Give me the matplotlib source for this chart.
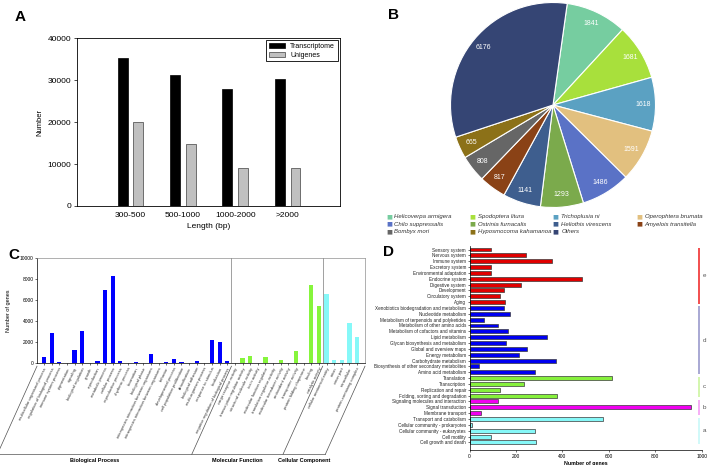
import matplotlib
matplotlib.use('Agg')
import matplotlib.pyplot as plt
import numpy as np

plt.rcParams['font.family'] = ['Liberation Sans', 'DejaVu Sans']

# ---- panel A data
length_bins = ['300-500', '500-1000', '1000-2000', '>2000']
transcriptome = [35400, 31300, 27800, 30300]
unigenes = [20000, 14900, 9000, 9150]

# ---- panel B data
species = ['Helicoverpa armigera', 'Spodoptera litura', 'Trichoplusia ni',
           'Operophtera brumata', 'Chilo suppressalis', 'Ostrinia furnacalis',
           'Heliothis virescens', 'Amyelois transitella', 'Bombyx mori',
           'Hyposmocoma kahamanoa', 'Others']
species_counts = [1841, 1681, 1618, 1591, 1486, 1293, 1141, 817, 808, 665, 6176]
species_colors = ['#76CDA0', '#A8E03C', '#5BA1C2', '#E2C07F', '#5A72C6',
                  '#7BAA4C', '#3E5E8E', '#8A4216', '#666666', '#8C7118', '#354574']

# ---- panel C data
bp_terms = ['multicellular organismal process', 'regulation of biological process',
            'immune system process', 'pigmentation', 'signaling',
            'biological regulation', 'growth', 'reproduction', 'metabolic process',
            'cellular process', 'reproductive process', 'rhythmic process',
            'locomotion', 'biological phase',
            'interspecies interaction between organisms',
            'intraspecies interaction between organisms', 'behavior',
            'developmental process', 'cell population proliferation',
            'detoxification', 'biological adhesion', 'multi-organism process',
            'response to stimulus', 'localization',
            'negative regulation of biological process']
bp_counts = [550, 2850, 120, 0, 1250, 3050, 0, 200, 7000, 8250, 200, 0, 130, 0,
             900, 0, 120, 350, 90, 0, 200, 0, 2200, 2000, 200]
mf_terms = ['cargo receptor activity', 'transcription regulator activity',
            'structural molecule activity', 'toxin activity',
            'molecular function regulator', 'translation regulator activity',
            'molecular transducer activity', 'antioxidant activity',
            'transporter activity', 'protein folding chaperone', 'binding',
            'catalytic activity']
mf_counts = [0, 500, 650, 30, 550, 20, 250, 20, 1100, 0, 7400, 5400]
cc_terms = ['cellular anatomical entity', 'virion', 'virion part',
            'intracellular', 'protein-containing complex']
cc_counts = [6600, 300, 300, 3800, 2500]

# ---- panel D data
kegg_terms = ['Sensory system', 'Nervous system', 'Immune system', 'Excretory system',
              'Environmental adaptation', 'Endocrine system', 'Digestive system',
              'Development', 'Circulatory system', 'Aging',
              'Xenobiotics biodegradation and metabolism', 'Nucleotide metabolism',
              'Metabolism of terpenoids and polyketides',
              'Metabolism of other amino acids', 'Metabolism of cofactors and vitamins',
              'Lipid metabolism', 'Glycan biosynthesis and metabolism',
              'Global and overview maps', 'Energy metabolism',
              'Carbohydrate metabolism', 'Biosynthesis of other secondary metabolites',
              'Amino acid metabolism', 'Translation', 'Transcription',
              'Replication and repair', 'Folding, sorting and degradation',
              'Signaling molecules and interaction', 'Signal transduction',
              'Membrane transport', 'Transport and catabolism',
              'Cellular community - prokaryotes', 'Cellular community - eukaryotes',
              'Cell motility', 'Cell growth and death']
kegg_counts = [91, 243, 355, 94, 91, 484, 222, 150, 133, 155,
               150, 175, 63, 123, 167, 333, 158, 249, 214, 373, 41, 281,
               612, 236, 130, 376,
               122, 955, 48,
               575, 12, 284, 94, 288]
kegg_class = ['e'] * 10 + ['d'] * 12 + ['c'] * 4 + ['b'] * 3 + ['a'] * 5
class_bar_color = {'e': '#E00000', 'd': '#0000F0', 'c': '#86F03C',
                   'b': '#F000F0', 'a': '#86F8F8'}
class_line_color = {'e': '#F03030', 'd': '#9999CC', 'c': '#CCF5A0',
                    'b': '#F5A0F5', 'a': '#C8F8F8'}

W, H = 708, 465
fig = plt.figure(figsize=(W / 100, H / 100), dpi=100)


def box(l, t, r, b):
    return [l / W, 1 - b / H, (r - l) / W, (b - t) / H]


# ================= A
ax = fig.add_axes(box(76.7, 38.3, 340, 206))
x = np.arange(1, len(length_bins) + 1)
ax.bar(x - 0.15, transcriptome, 0.19, color='black', edgecolor='black',
       linewidth=0.5, label='Transcriptome')
ax.bar(x + 0.15, unigenes, 0.19, color='#C0C0C0', edgecolor='#404040',
       linewidth=0.5, label='Unigenes')
ax.set_xlim(-0.03, 5.0)
ax.set_ylim(0, 40000)
ax.set_yticks(np.arange(0, 40001, 10000))
ax.set_xticks(x)
ax.set_xticklabels(length_bins)
ax.tick_params(axis='x', length=0, labelsize=6, pad=4)
ax.tick_params(axis='y', length=2.5, width=0.5, labelsize=6, pad=1.5)
for s in ax.spines.values():
    s.set_linewidth(0.6)
ax.set_ylabel('Number', fontsize=5.5, labelpad=3)
ax.set_xlabel('Length (bp)', fontsize=6, labelpad=3)
leg = ax.legend(loc='upper right', fontsize=5, fancybox=False, edgecolor='black',
                handlelength=2.3, handleheight=0.7, borderaxespad=0.3,
                labelspacing=0.2, framealpha=1)
leg.get_frame().set_linewidth(0.6)
fig.text(15 / W, 1 - 17 / H, 'A', fontsize=11, fontweight='bold', va='center')

# ================= B
axb = fig.add_axes(box(450.5, 2.5, 655.5, 207.5))
axb.pie(species_counts, colors=species_colors, startangle=82, counterclock=False,
        wedgeprops=dict(edgecolor='white', linewidth=0.8),
        autopct=lambda p: '%d' % round(p * sum(species_counts) / 100),
        pctdistance=0.88, textprops=dict(color='white', fontsize=5))
axb.set_xlim(-1.0, 1.0)
axb.set_ylim(-1.0, 1.0)
axb.set_aspect('equal')
fig.text(388 / W, 1 - 15 / H, 'B', fontsize=11, fontweight='bold', va='center')
for i, (name, col) in enumerate(zip(species, species_colors)):
    r, c = divmod(i, 4)
    xx = 389 + c * 83.4
    yy = 216.7 + r * 7.5
    fig.text(xx / W, 1 - yy / H, '\u25A0', color=col, fontsize=4.5,
             ha='center', va='center', family=['DejaVu Sans'])
    fig.text((xx + 5.5) / W, 1 - yy / H, name, fontsize=4.3, style='italic',
             ha='left', va='center', color='#333333')

# ================= C
axc = fig.add_axes(box(37, 258, 365, 363))
n_bp, n_mf, n_cc = len(bp_terms), len(mf_terms), len(cc_terms)
xb = np.arange(n_bp)
xm = np.arange(n_bp, n_bp + n_mf)
xc = np.arange(n_bp + n_mf, n_bp + n_mf + n_cc)
axc.bar(xb, bp_counts, 0.55, color='#0000FF')
axc.bar(xm, mf_counts, 0.55, color='#86F53C')
axc.bar(xc, cc_counts, 0.55, color='#86F8F8')
axc.set_xlim(-0.92, n_bp + n_mf + n_cc + 0.04)
axc.set_ylim(0, 10000)
axc.set_yticks(np.arange(0, 10001, 2000))
axc.set_xticks(np.concatenate([xb, xm, xc]))
axc.set_xticklabels(bp_terms + mf_terms + cc_terms, rotation=64, ha='right',
                    va='top', rotation_mode='anchor', fontsize=3, color='#333333')
axc.tick_params(axis='x', length=1.2, width=0.4, pad=1.5)
axc.tick_params(axis='y', length=1.5, width=0.4, labelsize=3.5, pad=1)
for k, s in axc.spines.items():
    s.set_linewidth(0.5)
    if k in ('top', 'right'):
        s.set_color('#909090')
axc.set_ylabel('Number of genes', fontsize=4, labelpad=6)
bounds = [-0.92, n_bp - 0.45, n_bp + n_mf - 0.5, n_bp + n_mf + n_cc + 0.04]
trans = axc.get_xaxis_transform()
for b in bounds[1:3]:
    axc.plot([b, b], [0, 1], color='#909090', lw=0.6, transform=trans)
slant = 5.2
ybot = -0.87
for b in bounds:
    axc.plot([b, b - slant], [-0.03, ybot], color='#505050', lw=0.5,
             transform=trans, clip_on=False)
axc.plot([bounds[0] - slant, bounds[-1] - slant], [ybot, ybot], color='#505050',
         lw=0.5, transform=trans, clip_on=False)
groups = ['Biological Process', 'Molecular Function', 'Cellular Component']
for g, (l, r) in zip(groups, zip(bounds[:-1], bounds[1:])):
    axc.text((l + r) / 2 - slant, ybot - 0.03, g, transform=trans, ha='center',
             va='top', fontsize=4, fontweight='bold')
fig.text(8 / W, 1 - 255 / H, 'C', fontsize=11, fontweight='bold', va='center')

# ================= D
axd = fig.add_axes(box(469.5, 246, 701.7, 450))
yd = np.arange(len(kegg_terms))
axd.barh(yd, kegg_counts, 0.68, color=[class_bar_color[c] for c in kegg_class],
         edgecolor='#3A3A3A', linewidth=0.5)
axd.set_xlim(0, 1000)
axd.set_ylim(len(kegg_terms) + 0.3, -0.6)
axd.set_yticks(yd)
axd.set_yticklabels(kegg_terms, fontsize=3.3, color='#222222')
axd.set_xticks(np.arange(0, 1001, 200))
axd.tick_params(axis='x', length=1.5, width=0.4, labelsize=3.5, pad=1.5)
axd.tick_params(axis='y', length=1.5, width=0.4, pad=1)
axd.spines['top'].set_visible(False)
axd.spines['right'].set_visible(False)
for k in ('left', 'bottom'):
    axd.spines[k].set_linewidth(0.5)
axd.set_xlabel('Number of genes', fontsize=3.8, fontweight='bold', labelpad=1.5)
for cl in ['e', 'd', 'c', 'b', 'a']:
    idx = [i for i, c in enumerate(kegg_class) if c == cl]
    y0, y1 = idx[0] - 0.25, idx[-1] + 0.25
    axd.plot([990, 990], [y0, y1], color=class_line_color[cl], lw=1.2,
             clip_on=False, solid_capstyle='butt')
    axd.text(1013, (y0 + y1) / 2, cl, fontsize=4.5, color='#555555',
             ha='center', va='center', clip_on=False)
fig.text(383 / W, 1 - 252 / H, 'D', fontsize=11, fontweight='bold', va='center')

fig.savefig('out.png', dpi=100)
